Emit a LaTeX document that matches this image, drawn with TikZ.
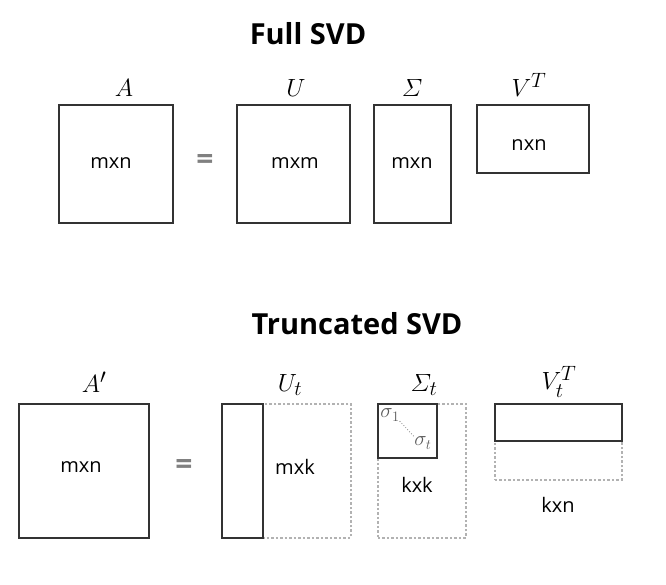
\documentclass[tikz,border=0pt]{standalone}
\usepackage{amsmath}
\usepackage{fontspec}
\setmainfont{Open Sans}
\begin{document}
\begin{tikzpicture}[x=1pt,y=-1pt,
  box/.style={draw=black!80, line width=2pt, anchor=north west, inner sep=0pt},
  dbox/.style={draw=black!30, line width=1.5pt, dash pattern=on 2.5pt off 2pt, anchor=north west, inner sep=0pt},
  txt/.style={font=\fontsize{20}{22}\selectfont, inner sep=0pt},
  ttl/.style={font=\fontsize{29}{32}\selectfont\bfseries, inner sep=0pt},
  mlab/.style={font=\fontsize{30}{32}\selectfont, inner sep=0pt},
  eq/.style={font=\fontsize{30}{32}\selectfont\bfseries, text=black!50, inner sep=0pt},
  sig/.style={font=\fontsize{21}{23}\selectfont, text=black!65, inner sep=0pt}]
\useasboundingbox (0,0) rectangle (666,585);
% Full SVD
\node[ttl] (t1) at (308,34) {Full SVD};
\node[box, minimum width=114pt, minimum height=118pt] (A) at (58,104) {};
\node[box, minimum width=113pt, minimum height=118pt] (U) at (236,104) {};
\node[box, minimum width=77pt, minimum height=118pt] (S) at (373,104) {};
\node[box, minimum width=112pt, minimum height=68pt] (V) at (476,104) {};
\node[mlab] (lA) at (124,88) {$A$};
\node[mlab] (lU) at (296,88) {$U$};
\node[mlab] (lS) at (412,88) {$\varSigma$};
\node[mlab] (lV) at (529,85) {$V^T$};
\node[eq] (e1) at (205,162) {=};
\node[txt] (a1) at (111,163) {mxn};
\node[txt] (u1) at (295,163) {mxm};
\node[txt] (s1) at (412,163) {mxn};
\node[txt] (v1) at (529,145) {nxn};
% Truncated SVD
\node[ttl] (t2) at (357,324) {Truncated SVD};
\node[box, minimum width=130pt, minimum height=134pt] (A2) at (18,403) {};
\node[dbox, minimum width=129pt, minimum height=134pt] (Ud) at (221,403) {};
\node[box, minimum width=41pt, minimum height=134pt] (Us) at (221,403) {};
\node[dbox, minimum width=88pt, minimum height=134pt] (Sd) at (377,403) {};
\node[box, minimum width=59pt, minimum height=54pt] (Ss) at (377,403) {};
\node[dbox, minimum width=127pt, minimum height=76pt] (Vd) at (494,403) {};
\node[box, minimum width=127pt, minimum height=37pt] (Vs) at (494,403) {};
\node[mlab] (lA2) at (94,382) {$A'$};
\node[mlab] (lU2) at (290,385) {$U_t$};
\node[mlab] (lS2) at (424,385) {$\varSigma_t$};
\node[mlab] (lV2) at (559,382) {$V_t^T$};
\node[eq] (e2) at (184,467) {=};
\node[txt] (a2) at (81,467) {mxn};
\node[txt] (u2) at (295,467) {mxk};
\node[txt] (s2) at (417,485) {kxk};
\node[txt] (v2) at (558,505) {kxn};
\node[sig] (sg1) at (390,415) {$\sigma_1$};
\node[sig] (sgt) at (423,443) {$\sigma_t$};
\draw[black!50, dotted, line width=0.8pt] (sg1.south east) -- (sgt.north west);
\end{tikzpicture}
\end{document}
